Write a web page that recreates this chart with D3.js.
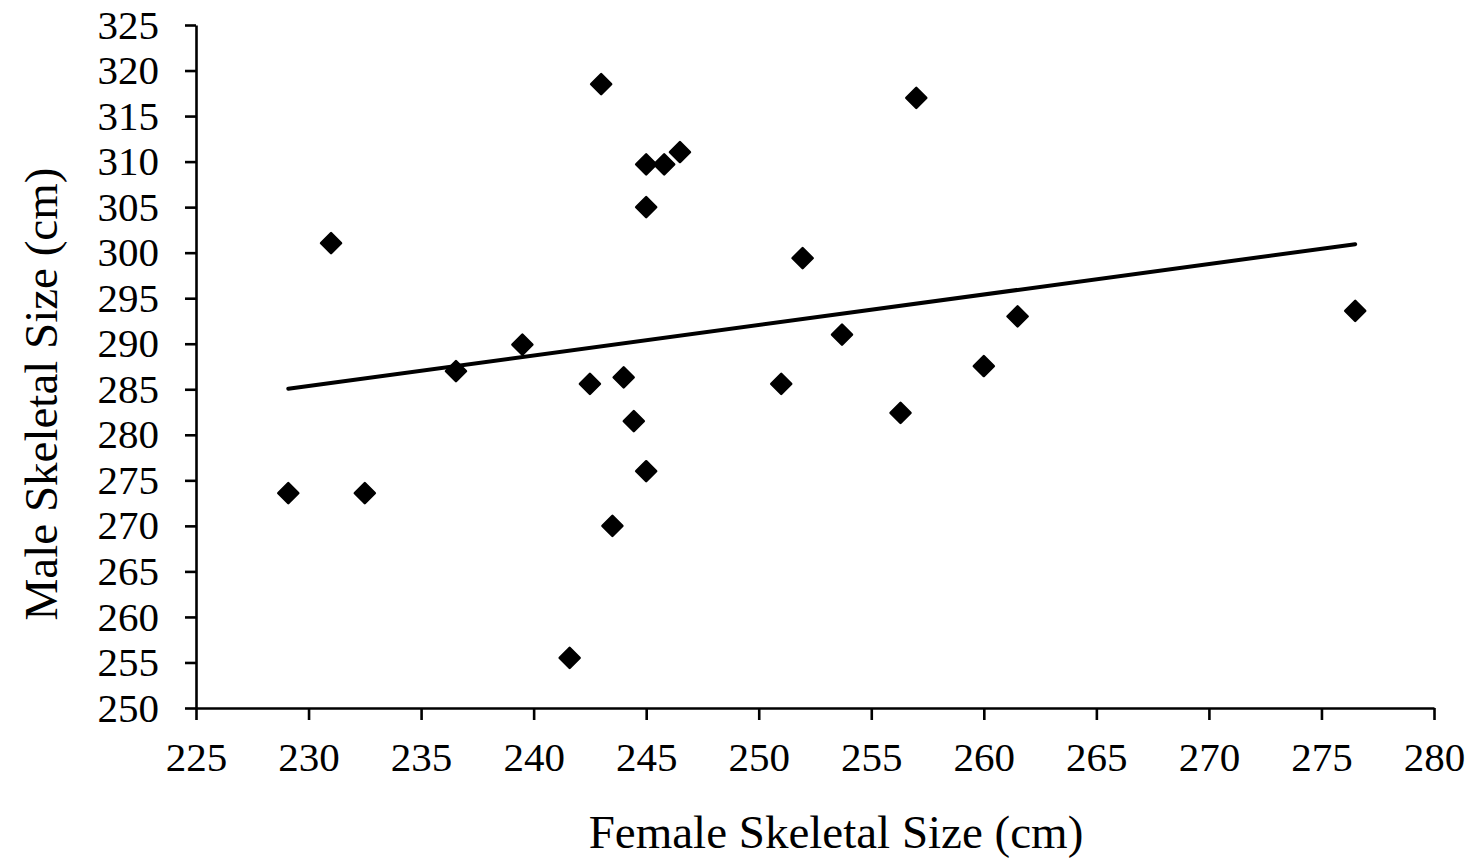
<!DOCTYPE html>
<html>
<head>
<meta charset="utf-8">
<script src="https://cdn.jsdelivr.net/npm/d3@7"></script>
<style>
  body { margin: 0; background: #fff; }
  svg { display: block; }
</style>
</head>
<body>
<svg id="chart"></svg>
<script>
const W = 1474,
  H = 864;
const margin = { top: 25, right: 40, bottom: 156, left: 196 };

// female (x) and male (y) skeletal sizes, cm
const female = [
  229.1, 231.0, 232.5, 236.55, 239.5, 241.6, 242.5, 243.0, 243.5, 244.0,
  244.45, 245.0, 245.0, 245.0, 245.8, 246.5, 251.0, 251.95, 253.7, 256.3,
  257.0, 260.0, 261.5, 276.5,
];
const male = [
  273.6, 301.05, 273.6, 287.0, 289.9, 255.5, 285.6, 318.5, 270.0, 286.3,
  281.5, 276.0, 305.0, 309.7, 309.7, 311.05, 285.6, 299.4, 291.0, 282.4,
  317.0, 287.55, 293.0, 293.6,
];
const xTicks = d3.range(225, 281, 5);
const yTicks = d3.range(250, 326, 5);

const data = female.map((f, i) => ({ f, m: male[i] }));

const svg = d3.select("#chart").attr("width", W).attr("height", H);

const x = d3
  .scaleLinear()
  .domain([225, 280])
  .range([margin.left, W - margin.right]);
const y = d3
  .scaleLinear()
  .domain([250, 325])
  .range([H - margin.bottom, margin.top]);

const font = "'Liberation Serif', 'Times New Roman', serif";

// axes
const xAxis = svg
  .append("g")
  .attr("transform", `translate(0,${y(250)})`)
  .call(d3.axisBottom(x).tickValues(xTicks).tickSize(12).tickPadding(22).tickSizeOuter(0));
const yAxis = svg
  .append("g")
  .attr("transform", `translate(${x(225)},0)`)
  .call(d3.axisLeft(y).tickValues(yTicks).tickSize(11).tickPadding(26).tickSizeOuter(0));

[xAxis, yAxis].forEach((g) => {
  g.selectAll("path, line").attr("stroke", "#000").attr("stroke-width", 2.6);
  g.selectAll("text")
    .attr("fill", "#000")
    .style("font-family", font)
    .style("font-size", "41px");
});
xAxis.selectAll("text").attr("dy", "0.71em");

// trend line (least squares)
const mx = d3.mean(female),
  my = d3.mean(male);
const slope =
  d3.sum(data, (d) => (d.f - mx) * (d.m - my)) /
  d3.sum(data, (d) => (d.f - mx) ** 2);
const icpt = my - slope * mx;
const [x0, x1] = d3.extent(female);

svg
  .append("line")
  .attr("x1", x(x0))
  .attr("y1", y(icpt + slope * x0))
  .attr("x2", x(x1))
  .attr("y2", y(icpt + slope * x1))
  .attr("stroke", "#000")
  .attr("stroke-width", 4)
  .attr("stroke-linecap", "round");

// points
svg
  .append("g")
  .selectAll("path")
  .data(data)
  .join("path")
  .attr("d", "M0,-10L10,0L0,10L-10,0Z")
  .attr("transform", (d) => `translate(${x(d.f)},${y(d.m)})`)
  .attr("fill", "#000")
  .attr("stroke", "#000")
  .attr("stroke-width", 2.5)
  .attr("stroke-linejoin", "round");

// axis titles
svg
  .append("text")
  .attr("x", 836)
  .attr("y", 848)
  .attr("text-anchor", "middle")
  .style("font-family", font)
  .style("font-size", "47px")
  .text("Female Skeletal Size (cm)");

svg
  .append("text")
  .attr("transform", "translate(57,394) rotate(-90)")
  .attr("text-anchor", "middle")
  .style("font-family", font)
  .style("font-size", "47px")
  .text("Male Skeletal Size (cm)");
</script>
</body>
</html>
